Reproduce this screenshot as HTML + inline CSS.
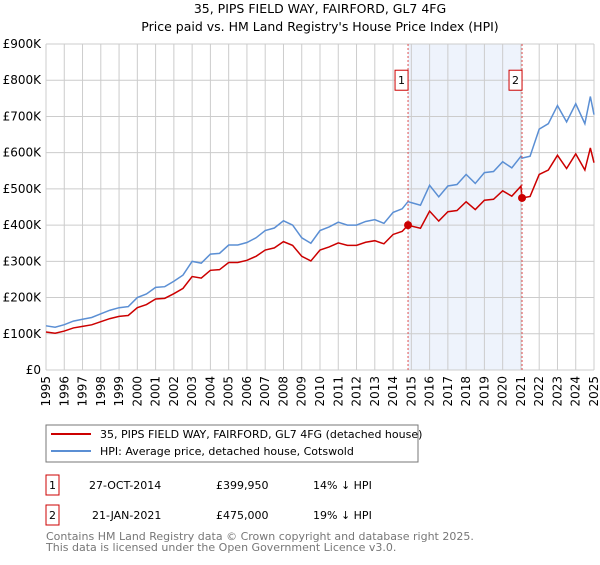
<!DOCTYPE html>
<html><head><meta charset="utf-8"><style>
body{margin:0;background:#fff;font-family:"Liberation Sans","DejaVu Sans",sans-serif;}
svg text{font-family:"DejaVu Sans","Liberation Sans",sans-serif;}
</style></head><body>
<svg id="c" width="600" height="560" xmlns="http://www.w3.org/2000/svg">
<text x="320" y="13" font-size="12.5" text-anchor="middle">35, PIPS FIELD WAY, FAIRFORD, GL7 4FG</text>
<text x="320" y="31" font-size="12.5" text-anchor="middle">Price paid vs. HM Land Registry's House Price Index (HPI)</text>
<g id="grid"></g><g id="plot"></g>
<rect x="46" y="425" width="372" height="37" fill="#fff" stroke="#777"/>
<line x1="51" y1="434" x2="91" y2="434" stroke="#cc0000" stroke-width="2"/>
<text x="100" y="438" font-size="11">35, PIPS FIELD WAY, FAIRFORD, GL7 4FG (detached house)</text>
<line x1="51" y1="451" x2="91" y2="451" stroke="#5b8fd4" stroke-width="2"/>
<text x="100" y="455" font-size="11">HPI: Average price, detached house, Cotswold</text>
<g font-size="11">
<rect x="46" y="475" width="13" height="20" fill="none" stroke="#cc0000"/>
<text x="52.5" y="489" text-anchor="middle">1</text>
<text x="89" y="489">27-OCT-2014</text>
<text x="216" y="489">£399,950</text>
<text x="313" y="489">14% ↓ HPI</text>
<rect x="46" y="505" width="13" height="20" fill="none" stroke="#cc0000"/>
<text x="52.5" y="519" text-anchor="middle">2</text>
<text x="92" y="519">21-JAN-2021</text>
<text x="216" y="519">£475,000</text>
<text x="313" y="519">19% ↓ HPI</text>
</g>
<text x="46" y="540" font-size="11" fill="#777">Contains HM Land Registry data © Crown copyright and database right 2025.</text>
<text x="46" y="551" font-size="11" fill="#777">This data is licensed under the Open Government Licence v3.0.</text>
</svg>
<script>
const yTicks=[0,100,200,300,400,500,600,700,800,900];
const years=[1995,1996,1997,1998,1999,2000,2001,2002,2003,2004,2005,2006,2007,2008,2009,2010,2011,2012,2013,2014,2015,2016,2017,2018,2019,2020,2021,2022,2023,2024,2025];
const hpiT=[1995,1995.5,1996,1996.5,1997,1997.5,1998,1998.5,1999,1999.5,2000,2000.5,2001,2001.5,2002,2002.5,2003,2003.5,2004,2004.5,2005,2005.5,2006,2006.5,2007,2007.5,2008,2008.5,2009,2009.5,2010,2010.5,2011,2011.5,2012,2012.5,2013,2013.5,2014,2014.5,2014.82,2015,2015.5,2016,2016.5,2017,2017.5,2018,2018.5,2019,2019.5,2020,2020.5,2021,2021.06,2021.5,2022,2022.5,2023,2023.5,2024,2024.5,2024.8,2025];
const hpiV=[122,118,125,135,140,145,155,165,172,175,200,210,228,230,245,262,300,295,320,322,345,345,352,365,385,392,412,400,365,350,385,395,408,400,400,410,415,405,435,445,465,462,455,510,478,508,512,540,515,545,548,575,558,590,585,590,665,680,730,685,735,680,755,705];
const saleT=[2014.82,2021.06];
const saleV=[399.95,475];
const X=t=>46+(t-1995)*(548/30), Y=v=>370-v*(326/900);
const ns="http://www.w3.org/2000/svg";
const mk=(p,tag,a)=>{const e=document.createElementNS(ns,tag);for(const k in a)e.setAttribute(k,a[k]);p.appendChild(e);return e;};
const g=document.getElementById('grid'),pl=document.getElementById('plot');
const sh=mk(g,'rect',{x:X(saleT[0]),y:Y(900),width:X(saleT[1])-X(saleT[0]),height:Y(0)-Y(900),fill:'#eef3fc'});


yTicks.forEach(v=>{const l=mk(g,'line',{x1:X(1995),x2:X(2025),y1:Y(v),y2:Y(v),stroke:'#ccc'});


const t=mk(g,'text',{x:41,y:Y(v)+4,'font-size':12,'text-anchor':'end'});t.textContent=v?('£'+v+'K'):'£0';

});
years.forEach(yr=>{const l=mk(g,'line',{x1:X(yr),x2:X(yr),y1:Y(900),y2:Y(0),stroke:'#ccc'});


const t=mk(g,'text',{x:0,y:0,'font-size':12,'text-anchor':'end',transform:`translate(${X(yr)+4},376) rotate(-90)`});t.textContent=yr;

});
const ratio=t=>{const r1=saleV[0]/interp(saleT[0]),r2=saleV[1]/interp(saleT[1]);return t<saleT[1]?r1:r2;};
function interp(t){for(let i=1;i<hpiT.length;i++)if(t<=hpiT[i]){const f=(t-hpiT[i-1])/(hpiT[i]-hpiT[i-1]);return hpiV[i-1]+f*(hpiV[i]-hpiV[i-1]);}return hpiV[hpiV.length-1];}
const hp=mk(pl,'polyline',{points:hpiT.map((t,i)=>X(t)+','+Y(hpiV[i])).join(' '),fill:'none',stroke:'#5b8fd4','stroke-width':1.5});


const rp=mk(pl,'polyline',{points:hpiT.map((t,i)=>X(t)+','+Y(hpiV[i]*ratio(t))).join(' '),fill:'none',stroke:'#cc0000','stroke-width':1.5});


saleT.forEach((t,i)=>{const l=mk(pl,'line',{x1:X(t),x2:X(t),y1:Y(900),y2:Y(0),stroke:'#e05050','stroke-dasharray':'2,2'});


const c=mk(pl,'circle',{cx:X(t),cy:Y(saleV[i]),r:4,fill:'#cc0000'});


const b=mk(pl,'rect',{x:X(t)-13,y:Y(800)-10,width:13,height:20,fill:'#fff',stroke:'#cc0000'});


const tx=mk(pl,'text',{x:X(t)-6.5,y:Y(800)+4,'font-size':11,'text-anchor':'middle'});tx.textContent=i+1;

});
</script>
</body></html>
